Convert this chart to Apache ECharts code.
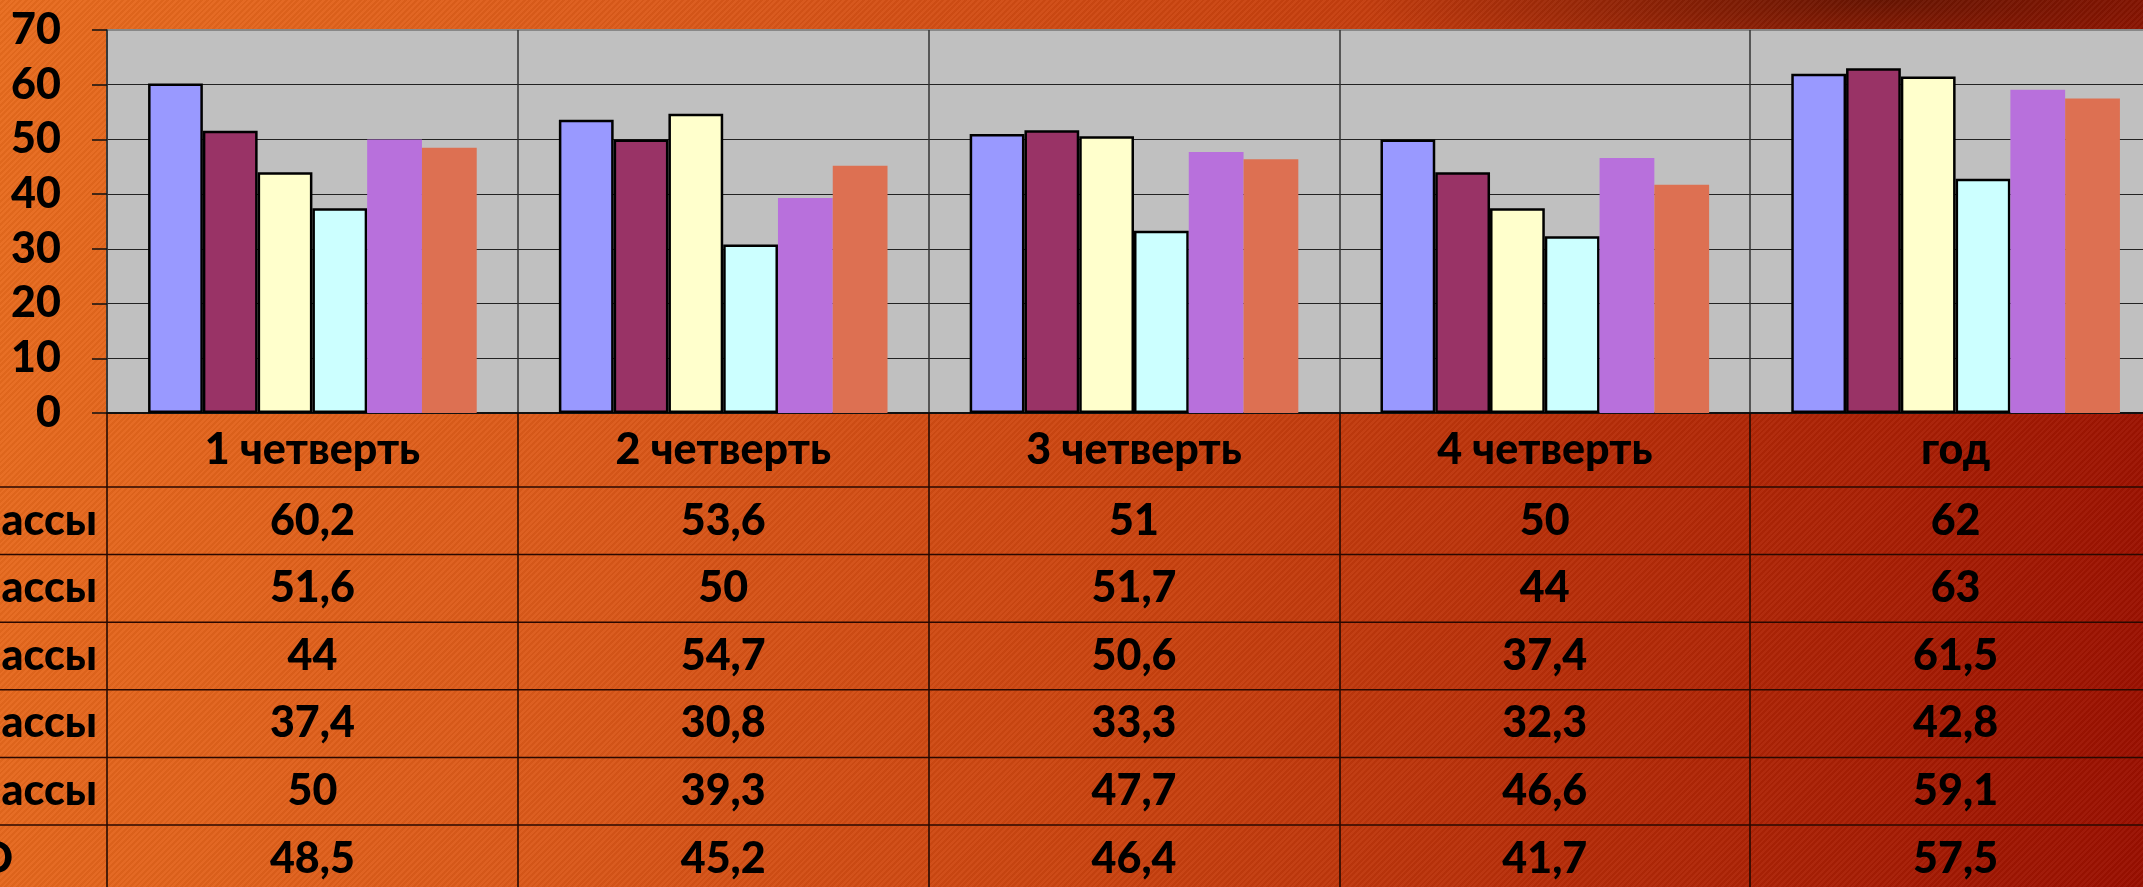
<!DOCTYPE html>
<html>
<head>
<meta charset="utf-8">
<script src="https://cdn.jsdelivr.net/npm/echarts@6/dist/echarts.min.js"></script>
<style>
  html, body { margin: 0; padding: 0; overflow: hidden; }
  #chart {
    width: 2143px;
    height: 887px;
    background:
      repeating-linear-gradient(135deg, rgba(255,255,255,0.035) 0 2px, rgba(0,0,0,0.035) 2px 4px),
      radial-gradient(ellipse 520px 70px at 1880px 0px, rgba(80,15,0,0.75), rgba(80,15,0,0) 100%),
      linear-gradient(100deg, #e86c1e 0%, #dc5a1a 28%, #c9420f 55%, #b02606 80%, #990f00 100%);
  }
</style>
</head>
<body>
<div id="chart"></div>
<script>
// categories (columns of the data table)
var categories = ['1 четверть', '2 четверть', '3 четверть', '4 четверть', 'год']

// series names (row labels, cut off at the left edge in the picture)
var rowNames = ['5 классы', '6 классы', '7 классы', '8 классы', '9 классы', 'по ОО']

// values per row
var row1 = [60.2, 53.6, 51, 50, 62]
var row2 = [51.6, 50, 51.7, 44, 63]
var row3 = [44, 54.7, 50.6, 37.4, 61.5]
var row4 = [37.4, 30.8, 33.3, 32.3, 42.8]
var row5 = [50, 39.3, 47.7, 46.6, 59.1]
var row6 = [48.5, 45.2, 46.4, 41.7, 57.5]
var rows = [row1, row2, row3, row4, row5, row6]

var colors = ['#9999ff', '#993366', '#ffffcc', '#ccffff', '#b870dc', '#dd7052']
var bordered = [true, true, true, true, false, false]

var FONT = 'Lato'
var FS = 43

// layout of the table under the plot
var plotBottom = 413
var headerBottom = 487
var rowH = 67.6

var chart = echarts.init(document.getElementById('chart'), null, { renderer: 'canvas' })

function fmt(v) {
  return String(v).replace('.', ',')
}

var xAxes = [{
  type: 'category',
  gridIndex: 0,
  data: categories,
  position: 'bottom',
  axisLine: { show: true, lineStyle: { color: '#111', width: 2 } },
  axisTick: { show: true, interval: 0, length: 474, lineStyle: { color: '#1a0600', width: 1.5 } },
  axisLabel: {
    interval: 0, margin: 37, verticalAlign: 'middle',
    fontFamily: FONT, fontWeight: 900, fontSize: FS, color: '#000'
  },
  splitLine: { show: true, interval: 0, lineStyle: { color: '#333', width: 1.5 } }
}]

rows.forEach(function (r, i) {
  var center = headerBottom + rowH * i + rowH / 2
  xAxes.push({
    type: 'category',
    gridIndex: 0,
    data: categories,
    position: 'bottom',
    offset: center - plotBottom,
    axisLine: { show: false },
    axisTick: { show: false },
    splitLine: { show: false },
    axisLabel: {
      interval: 0, margin: 0, verticalAlign: 'middle',
      fontFamily: FONT, fontWeight: 900, fontSize: FS, color: '#000',
      formatter: function (val, idx) { return fmt(r[idx]) }
    },
    name: rowNames[i],
    nameLocation: 'start',
    nameGap: i === 5 ? 94 : 10,
    nameTextStyle: {
      fontFamily: FONT, fontWeight: 900, fontSize: FS, color: '#000',
      align: 'right', verticalAlign: 'middle'
    }
  })
})

var series = rows.map(function (r, i) {
  return {
    name: rowNames[i],
    type: 'bar',
    xAxisIndex: 0,
    data: r,
    barGap: '0%',
    barCategoryGap: '20%',
    itemStyle: {
      color: colors[i],
      borderColor: '#000',
      borderWidth: bordered[i] ? 2.5 : 0
    }
  }
})

var lines = []
for (var k = 0; k < 6; k++) {
  var y = headerBottom + rowH * k
  lines.push({
    type: 'line',
    shape: { x1: 0, y1: y, x2: 2143, y2: y },
    style: { stroke: '#2a0800', lineWidth: 1.5 },
    z: 1
  })
}

chart.setOption({
  animation: false,
  backgroundColor: 'transparent',
  grid: {
    left: 107,
    top: 30,
    bottom: 887 - plotBottom,
    right: -18,
    show: true,
    backgroundColor: '#c0c0c0',
    borderColor: '#888',
    borderWidth: 2,
    containLabel: false,
    outerBoundsMode: 'none'
  },
  xAxis: xAxes,
  yAxis: {
    type: 'value',
    min: 0,
    max: 70,
    interval: 10,
    axisLine: { show: true, lineStyle: { color: '#333', width: 1.5 } },
    axisTick: { show: true, length: 15, lineStyle: { color: '#111', width: 1.5 } },
    axisLabel: {
      margin: 46,
      fontFamily: FONT, fontWeight: 900, fontSize: FS, color: '#000'
    },
    splitLine: {
      show: true,
      lineStyle: {
        color: ['#222', '#222', '#222', '#222', '#222', '#222', '#222', '#888'],
        width: 1.2
      }
    }
  },
  graphic: lines,
  series: series
})
</script>
</body>
</html>
